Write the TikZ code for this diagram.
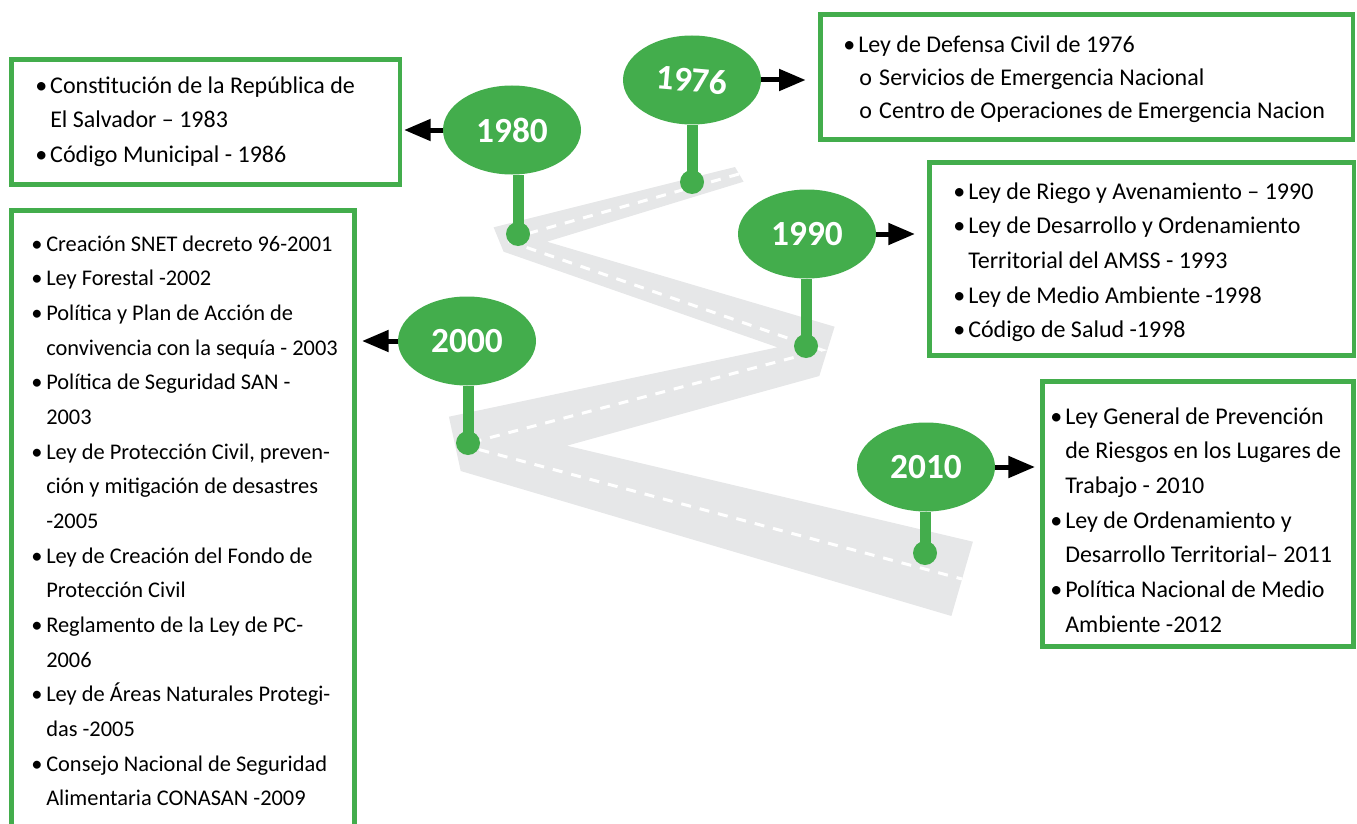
\documentclass[tikz,border=0pt]{standalone}
\usepackage{fontspec}
\usepackage{graphicx}
\setmainfont{Carlito}
\usetikzlibrary{shapes.geometric,arrows.meta}
\definecolor{leafgreen}{RGB}{67,173,76}
\definecolor{roadgray}{RGB}{230,231,232}
% list helpers: bullet, continuation indent, sub-item, first-line strut
\newcommand{\bl}{\makebox[11.25pt][l]{•}}
\newcommand{\ct}{\hspace*{11.25pt}}
\newcommand{\subitm}{\makebox[27pt][l]{\hspace*{12pt}o}}
\newcommand{\firstln}{\rule{0pt}{18pt}}
\begin{document}
\begin{tikzpicture}[x=0.75pt,y=-0.75pt,
  yearel/.style={ellipse, fill=leafgreen, minimum width=103.5pt, minimum height=66.75pt,
    inner sep=0pt, text=white, font=\fontsize{26.5}{30}\selectfont\bfseries},
  pindot/.style={circle, fill=leafgreen, minimum size=18pt, inner sep=0pt},
  pinstick/.style={draw=leafgreen, line width=8.25pt},
  gbox/.style={rectangle, draw=leafgreen, line width=3.4pt, inner sep=0pt},
  itemtext/.style={anchor=north west, inner sep=0pt, align=left,
    font=\fontsize{18}{26}\selectfont},
  arr/.style={line width=3.75pt, -{Triangle[length=20pt,width=15.75pt]}},
]
\useasboundingbox (0,0) rectangle (1357,824);
\clip (0,0) rectangle (1357,824);

% zig-zag road
\fill[roadgray] (735,167) -- (493.6,227.3) -- (503.6,251.7) -- (777.5,347.3)
  -- (448.9,416.7) -- (460.7,471) -- (951.4,616) -- (972.9,541.7)
  -- (566.8,445.7) -- (819.3,376) -- (834.6,326.7) -- (547,241.7)
  -- (743.6,181.7) -- cycle;
\draw[white, line width=2.25pt, dash pattern=on 7.5pt off 6.75pt]
  (739,174) -- (505,240) -- (822,350) -- (462,445) -- (962,579);

% year markers
\node[yearel] (y1976) at (692,80)  {\rotatebox{-5}{1976}};
\node[yearel] (y1980) at (512,130) {1980};
\node[yearel] (y1990) at (807,234) {1990};
\node[yearel] (y2000) at (467,341) {2000};
\node[yearel] (y2010) at (926,467) {2010};

\node[pindot] (d1976) at (692,182) {};
\node[pindot] (d1980) at (518,234) {};
\node[pindot] (d1990) at (806,346) {};
\node[pindot] (d2000) at (468,443) {};
\node[pindot] (d2010) at (925,553) {};

\draw[pinstick] (d1976.center) -- (d1976.center |- y1976.south);
\draw[pinstick] (d1980.center) -- (d1980.center |- y1980.south);
\draw[pinstick] (d1990.center) -- (d1990.center |- y1990.south);
\draw[pinstick] (d2000.center) -- (d2000.center |- y2000.south);
\draw[pinstick] (d2010.center) -- (d2010.center |- y2010.south);

% frames
\node[gbox, minimum width=399.4pt, minimum height=94.1pt] (b1976) at (1086.5,77) {};
\node[gbox, minimum width=291.4pt, minimum height=94.1pt] (b1980) at (205.5,122) {};
\node[gbox, minimum width=318.4pt, minimum height=145.1pt] (b1990) at (1141.5,259) {};
\node[gbox, minimum width=257.6pt, minimum height=515.6pt] (b2000) at (183,554) {};
\node[gbox, minimum width=233.6pt, minimum height=199.1pt] (b2010) at (1198,514) {};

% frame contents
\node[itemtext, font=\fontsize{18}{25}\selectfont] (t1976) at (843,28) {%
\firstln\bl Ley de Defensa Civil de 1976\\
\subitm Servicios de Emergencia Nacional\\
\subitm Centro de Operaciones de Emergencia Nacion};

\node[itemtext] (t1980) at (35,69) {%
\firstln\bl Constitución de la República de\\
\ct El Salvador – 1983\\
\bl Código Municipal - 1986};

\node[itemtext] (t1990) at (953,175) {%
\firstln\bl Ley de Riego y Avenamiento – 1990\\
\bl Ley de Desarrollo y Ordenamiento\\
\ct Territorial del AMSS - 1993\\
\bl Ley de Medio Ambiente -1998\\
\bl Código de Salud -1998};

\node[itemtext, font=\fontsize{16.8}{26}\selectfont] (t2000) at (31,227) {%
\firstln\bl Creación SNET decreto 96-2001\\
\bl Ley Forestal -2002\\
\bl Política y Plan de Acción de\\
\ct convivencia con la sequía - 2003\\
\bl Política de Seguridad SAN -\\
\ct 2003\\
\bl Ley de Protección Civil, preven-\\
\ct ción y mitigación de desastres\\
\ct -2005\\
\bl Ley de Creación del Fondo de\\
\ct Protección Civil\\
\bl Reglamento de la Ley de PC-\\
\ct 2006\\
\bl Ley de Áreas Naturales Protegi-\\
\ct das -2005\\
\bl Consejo Nacional de Seguridad\\
\ct Alimentaria CONASAN -2009};

\node[itemtext] (t2010) at (1050,400) {%
\firstln\bl Ley General de Prevención\\
\ct de Riesgos en los Lugares de\\
\ct Trabajo - 2010\\
\bl Ley de Ordenamiento y\\
\ct Desarrollo Territorial– 2011\\
\bl Política Nacional de Medio\\
\ct Ambiente -2012};

% pointers from the years to their frames
\draw[arr, shorten >=9.2pt] (y1976.east) -- (b1976.west |- y1976.east);
\draw[arr, shorten >=1.5pt] (y1980.west) -- (b1980.east |- y1980.west);
\draw[arr, shorten >=9pt] (y1990.east) -- (b1990.west |- y1990.east);
\draw[arr, shorten >=3.75pt] (y2000.west) -- (b2000.east |- y2000.west);
\draw[arr, shorten >=3.75pt] (y2010.east) -- (b2010.west |- y2010.east);
\end{tikzpicture}
\end{document}
